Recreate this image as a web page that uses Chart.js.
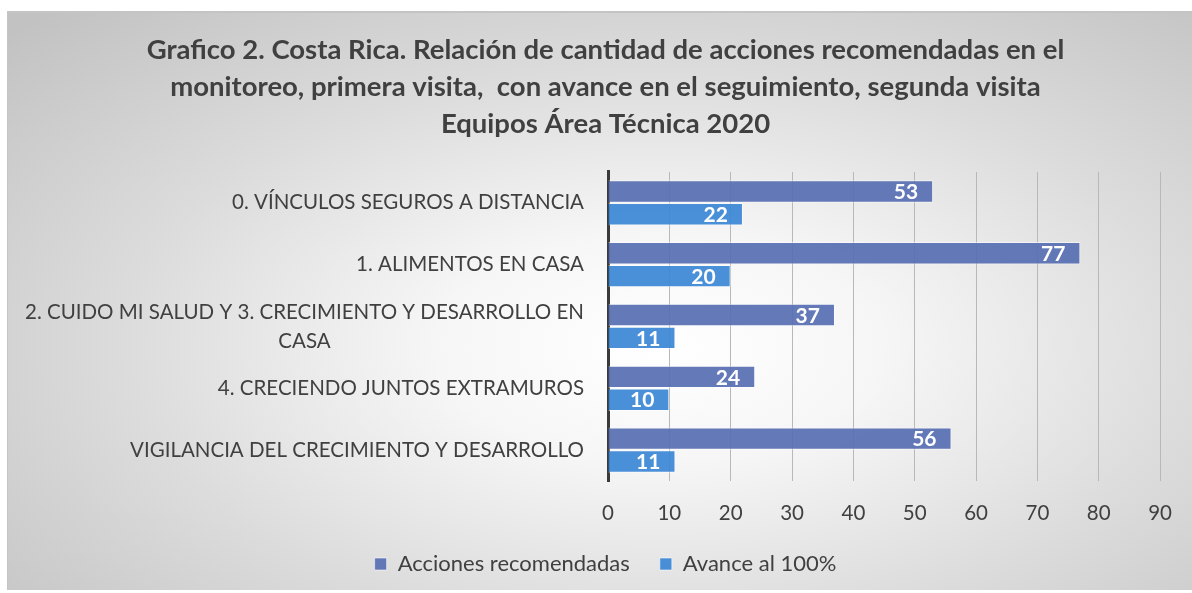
<!DOCTYPE html>
<html>
<head>
<meta charset="utf-8">
<script src="https://cdn.jsdelivr.net/npm/chart.js@4.4.0/dist/chart.umd.min.js"></script>
<style>
  html, body { margin: 0; padding: 0; background: #fff; }
  #box {
    position: absolute; left: 7px; top: 11px; width: 1185px; height: 579px;
    border-top: 2px solid #c4c4c4; border-left: 1px solid #c4c4c4; box-sizing: border-box;
    background: radial-gradient(ellipse 75% 80% at 55% 58%, #ffffff 0%, #f6f6f6 25%, #dcdcdc 60%, #c2c2c2 100%);
  }
  #c { display: block; }
</style>
</head>
<body>
<div id="box"><canvas id="c" width="1184" height="577"></canvas></div>
<script>
const categories = [
  ["0. VÍNCULOS SEGUROS A DISTANCIA"],
  ["1. ALIMENTOS EN CASA"],
  ["2. CUIDO MI SALUD Y 3. CRECIMIENTO Y DESARROLLO EN", "CASA"],
  ["4. CRECIENDO JUNTOS EXTRAMUROS"],
  ["VIGILANCIA DEL CRECIMIENTO Y DESARROLLO"]
];
const acciones = [53, 77, 37, 24, 56];
const avance = [22, 20, 11, 10, 11];
const titleLines = [
  "Grafico 2. Costa Rica. Relación de cantidad de acciones recomendadas en el",
  "monitoreo, primera visita,  con avance en el seguimiento, segunda visita",
  "Equipos Área Técnica 2020"
];

const FONT = "Lato, 'Open Sans', sans-serif";
const TEXT = "#404040";

// category labels: right aligned, wrapped lines centred on the widest line
const catLabels = {
  id: "catLabels",
  afterDraw(chart) {
    const ctx = chart.ctx, y = chart.scales.y;
    const right = chart.chartArea.left - 24;
    ctx.save();
    ctx.font = "20.5px " + FONT;
    ctx.fillStyle = TEXT;
    ctx.textBaseline = "middle";
    categories.forEach((lines, i) => {
      const cy = y.getPixelForTick(i);
      const lh = 29;
      const y0 = cy - (lines.length - 1) * lh / 2;
      if (lines.length === 1) {
        ctx.textAlign = "right";
        ctx.fillText(lines[0], right, y0);
      } else {
        const w = Math.max(...lines.map(l => ctx.measureText(l).width));
        ctx.textAlign = "center";
        lines.forEach((l, k) => ctx.fillText(l, right - w / 2, y0 + k * lh));
      }
    });
    ctx.restore();
  }
};

// value labels inside the bar end
const valueLabels = {
  id: "valueLabels",
  afterDatasetsDraw(chart) {
    const ctx = chart.ctx;
    ctx.save();
    ctx.font = "bold 21px " + FONT;
    ctx.fillStyle = "#ffffff";
    ctx.textAlign = "right";
    ctx.textBaseline = "middle";
    chart.data.datasets.forEach((ds, di) => {
      chart.getDatasetMeta(di).data.forEach((bar, i) => {
        ctx.fillText(String(ds.data[i]), bar.x - 15, bar.y + 1);
      });
    });
    ctx.restore();
  }
};

new Chart(document.getElementById("c"), {
  type: "bar",
  data: {
    labels: categories,
    datasets: [
      {
        label: "Acciones recomendadas",
        data: acciones,
        backgroundColor: "rgba(87,111,179,0.93)",
        borderColor: "rgba(255,255,255,0.55)",
        borderWidth: 1,
        borderSkipped: "start"
      },
      {
        label: "Avance al 100%",
        data: avance,
        backgroundColor: "rgba(60,136,214,0.93)",
        borderColor: "rgba(255,255,255,0.55)",
        borderWidth: 1,
        borderSkipped: "start"
      }
    ]
  },
  options: {
    indexAxis: "y",
    responsive: false,
    animation: false,
    categoryPercentage: 0.74,
    barPercentage: 0.98,
    layout: { padding: { top: 19, right: 29, bottom: 5, left: 40 } },
    plugins: {
      title: {
        display: true,
        text: titleLines,
        color: TEXT,
        font: { family: FONT, size: 27.5, weight: "bold", lineHeight: 1.345 },
        padding: { top: 0, bottom: 29 }
      },
      legend: {
        position: "bottom",
        labels: {
          color: TEXT,
          font: { family: FONT, size: 22 },
          boxWidth: 12,
          boxHeight: 12,
          padding: 30
        }
      },
      tooltip: { enabled: false }
    },
    scales: {
      x: {
        min: 0,
        max: 90,
        ticks: { stepSize: 10, color: TEXT, font: { family: FONT, size: 20.5 }, padding: 20 },
        grid: { color: "#b8b8b8", drawTicks: false },
        border: { display: false },
        afterFit(s) { s.height = 42; }
      },
      y: {
        ticks: { display: false },
        grid: { display: false },
        border: { color: "#3a3a3a", width: 3 },
        afterFit(s) { s.width = 560; }
      }
    }
  },
  plugins: [catLabels, valueLabels]
});
</script>
</body>
</html>
